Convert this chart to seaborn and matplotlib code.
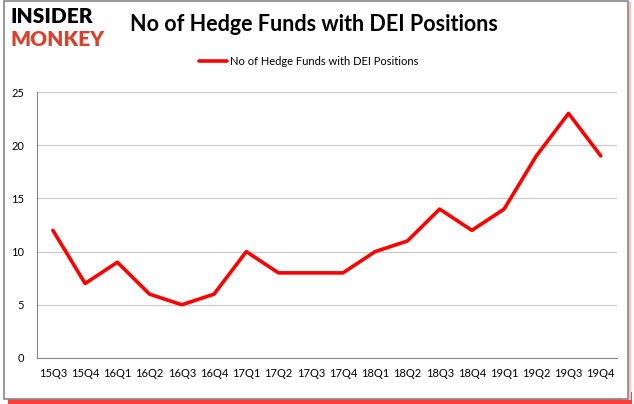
import matplotlib
matplotlib.use("Agg")
import matplotlib.pyplot as plt
import seaborn as sns
import pandas as pd
from matplotlib.patches import Rectangle

quarters = ["15Q3", "15Q4", "16Q1", "16Q2", "16Q3", "16Q4", "17Q1", "17Q2", "17Q3",
            "17Q4", "18Q1", "18Q2", "18Q3", "18Q4", "19Q1", "19Q2", "19Q3", "19Q4"]
funds = [12, 7, 9, 6, 5, 6, 10, 8, 8, 8, 10, 11, 14, 12, 14, 19, 23, 19]
series_name = "No of Hedge Funds with DEI Positions"

df = pd.DataFrame({"pos": range(len(quarters)), "quarter": quarters, "funds": funds})

sns.set_style("white")
plt.rcParams["font.family"] = ["Lato", "DejaVu Sans"]
plt.rcParams["text.color"] = "black"
plt.rcParams["xtick.color"] = "black"
plt.rcParams["ytick.color"] = "black"

fig = plt.figure(figsize=(6.34, 4.04), dpi=100)
ax = fig.add_axes([0.058, 0.114, 0.915, 0.658])

# frame with red shadow around the whole chart
fig.patches.append(Rectangle((0.012, 0.0), 0.985, 0.03, transform=fig.transFigure,
                             facecolor="#ff1a1a", edgecolor="none", alpha=0.85, zorder=-4))
fig.patches.append(Rectangle((0.98, 0.01), 0.015, 0.985, transform=fig.transFigure,
                             facecolor="#ffc0c0", edgecolor="none", zorder=-4))
fig.patches.append(Rectangle((0.006, 0.012), 0.985, 0.985, transform=fig.transFigure,
                             facecolor="white", edgecolor="#888888", linewidth=1.2, zorder=-2))

sns.lineplot(data=df, x="pos", y="funds", ax=ax, color="#ff0000", linewidth=2.6,
             label=series_name, legend=False)

ax.set_xlim(-0.5, len(quarters) - 0.5)
ax.set_ylim(0, 25)
ax.set_yticks(range(0, 26, 5))
ax.set_xticks(range(len(quarters)))
ax.set_xticklabels(quarters, fontsize=8)
ax.set_xticks([i - 0.5 for i in range(len(quarters) + 1)], minor=True)
ax.tick_params(axis="x", which="major", length=0, pad=7)
ax.tick_params(axis="x", which="minor", length=4, color="#888888", direction="out")
ax.tick_params(axis="y", labelsize=8, length=0, pad=9)
ax.set_xlabel("")
ax.set_ylabel("")
ax.grid(axis="y", color="#c8c8c8", linewidth=0.8)
ax.set_axisbelow(True)
for side in ["top", "right"]:
    ax.spines[side].set_visible(False)
ax.spines["left"].set_color("#888888")
ax.spines["bottom"].set_color("#888888")

fig.text(0.205, 0.94, "No of Hedge Funds with DEI Positions", fontsize=15.5, fontweight="bold",
         va="center", ha="left")
fig.text(0.016, 0.958, "INSIDER", fontsize=15, fontweight="heavy", color="black", va="center")
fig.text(0.016, 0.903, "MONKEY", fontsize=15, fontweight="heavy", color="#d9412c", va="center")

fig.legend(*ax.get_legend_handles_labels(), loc="center", bbox_to_anchor=(0.487, 0.849),
           frameon=False, fontsize=8, handlelength=2.5, handletextpad=0.3)

fig.savefig("out.png", dpi=100)
